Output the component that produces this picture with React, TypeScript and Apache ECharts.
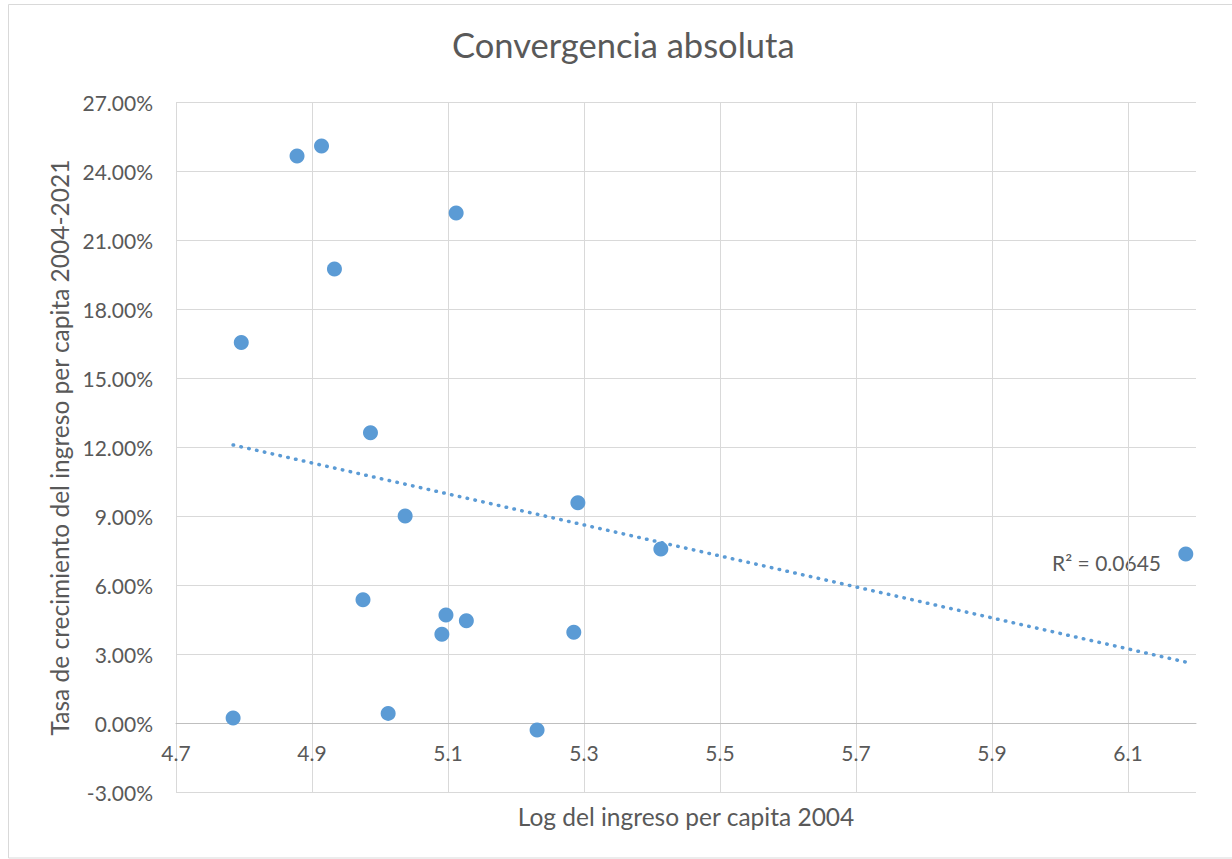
import React, { useEffect, useRef } from "react";
import * as echarts from "echarts";

const title = "Convergencia absoluta";
const xName = "Log del ingreso per capita 2004";
const yName = "Tasa de crecimiento del ingreso per capita 2004-2021";
const xTicks = [4.7, 4.9, 5.1, 5.3, 5.5, 5.7, 5.9, 6.1];
const yTicks = [-3, 0, 3, 6, 9, 12, 15, 18, 21, 24, 27];
const logIncome = [4.784, 4.796, 4.878, 4.914, 4.933, 4.975, 4.986, 5.012, 5.037, 5.091, 5.097, 5.112, 5.127, 5.231, 5.285, 5.291, 5.413, 6.185];
const growthRate = [0.24, 16.56, 24.67, 25.11, 19.76, 5.38, 12.64, 0.44, 9.02, 3.88, 4.72, 22.2, 4.47, -0.28, 3.97, 9.6, 7.59, 7.37];
const trendX = [4.784, 6.185];
const trendY = [12.11, 2.67];
const rSquaredLabel = "R² = 0.0645";

const TEXT = "#595959";
const GRID = "#D9D9D9";
const BLUE = "#5B9BD5";
const FONT = "Lato";

const GRID_TOP = 102.5;
const GRID_BOTTOM = 66.5;
const Y_MIN = -3;
const Y_MAX = 27;

export default function App() {
  const ref = useRef<HTMLDivElement>(null);
  useEffect(() => {
    if (!ref.current) return;
    const chart = echarts.init(ref.current, null, { renderer: "svg" });
    const points = logIncome.map((x, i) => [x, growthRate[i]]);
    const trend = trendX.map((x, i) => [x, trendY[i]]);
    const plotH = 859 - GRID_TOP - GRID_BOTTOM;
    // shift the horizontal axis up so it crosses the vertical axis at 0
    const zeroOffset = -(plotH * (0 - Y_MIN)) / (Y_MAX - Y_MIN);
    chart.setOption({
      animation: false,
      backgroundColor: "#ffffff",
      textStyle: { fontFamily: FONT },
      title: {
        text: title,
        left: 447,
        top: 22,
        textStyle: { fontFamily: FONT, fontSize: 34.5, fontWeight: "normal", color: TEXT },
      },
      grid: {
        left: 176,
        right: 36,
        top: GRID_TOP,
        bottom: GRID_BOTTOM,
        containLabel: false,
        outerBoundsMode: "none",
      },
      xAxis: {
        type: "value",
        min: 4.7,
        max: 6.2,
        offset: zeroOffset,
        name: xName,
        nameLocation: "middle",
        nameGap: 80,
        nameTextStyle: { fontFamily: FONT, fontSize: 24.5, color: TEXT },
        axisLine: { show: true, onZero: false, lineStyle: { color: "#BFBFBF", width: 1 } },
        axisTick: { show: false, customValues: xTicks },
        axisLabel: {
          customValues: xTicks,
          margin: 18,
          fontFamily: FONT,
          fontSize: 21,
          color: TEXT,
          formatter: (v: number) => v.toFixed(1),
        },
        splitLine: { show: true, lineStyle: { color: GRID, width: 1 } },
      },
      yAxis: {
        type: "value",
        min: Y_MIN,
        max: Y_MAX,
        interval: 3,
        name: yName,
        nameLocation: "middle",
        nameGap: 102,
        nameTextStyle: { fontFamily: FONT, fontSize: 24.5, color: TEXT },
        axisLine: { show: false, onZero: false },
        axisTick: { show: false },
        axisLabel: {
          customValues: yTicks,
          margin: 23,
          fontFamily: FONT,
          fontSize: 21,
          color: TEXT,
          formatter: (v: number) => v.toFixed(2) + "%",
        },
        splitLine: { show: true, lineStyle: { color: GRID, width: 1 } },
      },
      graphic: [
        {
          type: "rect",
          shape: { x: 8.5, y: 4.5, width: 1400, height: 853.5 },
          style: { fill: "none", stroke: GRID, lineWidth: 1 },
          silent: true,
        },
        {
          type: "text",
          x: 1161,
          y: 562,
          style: {
            text: rSquaredLabel,
            fontFamily: FONT,
            fontSize: 21,
            fill: TEXT,
            align: "right",
            verticalAlign: "middle",
          },
        },
      ],
      series: [
        {
          type: "line",
          data: trend,
          showSymbol: false,
          symbol: "none",
          lineStyle: { color: BLUE, width: 3.5, type: [0.5, 7.5], cap: "round" },
          z: 2,
        },
        {
          type: "scatter",
          data: points,
          symbol: "circle",
          symbolSize: 15,
          itemStyle: { color: BLUE, opacity: 1 },
          z: 3,
        },
      ],
    });
    return () => chart.dispose();
  }, []);
  return (
    <div
      ref={ref}
      style={{ position: "fixed", left: 0, top: 0, width: 1232, height: 859, background: "#fff" }}
    />
  );
}
